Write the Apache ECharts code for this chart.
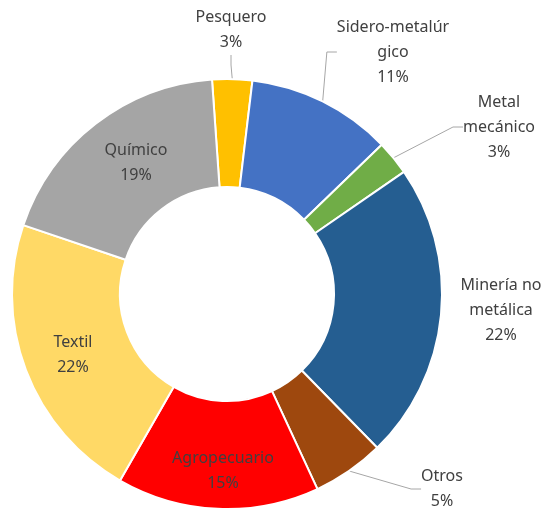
<!DOCTYPE html>
<html lang="es">
<head>
<meta charset="utf-8">
<script src="https://cdn.jsdelivr.net/npm/echarts@6/dist/echarts.min.js"></script>
<style>
html,body{margin:0;padding:0;background:#fff;}
#chart{width:558px;height:509px;}
</style>
</head>
<body>
<div id="chart"></div>
<script>
// datos (porcentaje por sector)
var categories = ['Pesquero', 'Sidero-metalúrgico', 'Metal mecánico', 'Minería no metálica', 'Otros', 'Agropecuario', 'Textil', 'Químico'];
var labelNames = ['Pesquero', 'Sidero-metalúr\ngico', 'Metal\nmecánico', 'Minería no\nmetálica', 'Otros', 'Agropecuario', 'Textil', 'Químico'];
var values = [3.0, 10.9, 2.6, 22.3, 5.4, 15.2, 21.9, 18.7];
var colors = ['#FFC000', '#4472C4', '#70AD47', '#255E91', '#9E480E', '#FF0000', '#FFD966', '#A5A5A5'];

// posicion de las etiquetas (centro del texto)
var labelPos = [[231, 30], [393, 52], [499, 127], [501, 310], [442, 489], [223, 471], [73, 355], [136, 163]];
var outside = [true, true, true, true, true, false, false, false];
var withLine = [true, true, true, false, true, false, false, false];

var databox = categories.map(function (c, i) {
    return {
        name: c,
        value: values[i],
        itemStyle: { color: colors[i] },
        label: { position: outside[i] ? 'outside' : 'inside' },
        labelLine: { show: withLine[i] }
    };
});

var myChart = echarts.init(document.getElementById('chart'));
var option = {
    animation: false,
    series: [{
        type: 'pie',
        center: [227, 294],
        radius: [107, 215],
        startAngle: 94,
        clockwise: true,
        avoidLabelOverlap: false,
        itemStyle: { borderColor: '#fff', borderWidth: 2 },
        label: {
            color: '#404040',
            fontFamily: 'Noto Sans',
            fontSize: 16,
            lineHeight: 25,
            align: 'center',
            formatter: function (p) {
                return labelNames[p.dataIndex] + '\n' + Math.round(p.percent) + '%';
            }
        },
        labelLine: {
            lineStyle: { color: '#A6A6A6', width: 1 },
            length: 10,
            length2: 10
        },
        labelLayout: function (p) {
            var pos = labelPos[p.dataIndex];
            return { x: pos[0], y: pos[1], align: 'center', verticalAlign: 'middle' };
        },
        data: databox
    }]
};
myChart.setOption(option);
</script>
</body>
</html>
